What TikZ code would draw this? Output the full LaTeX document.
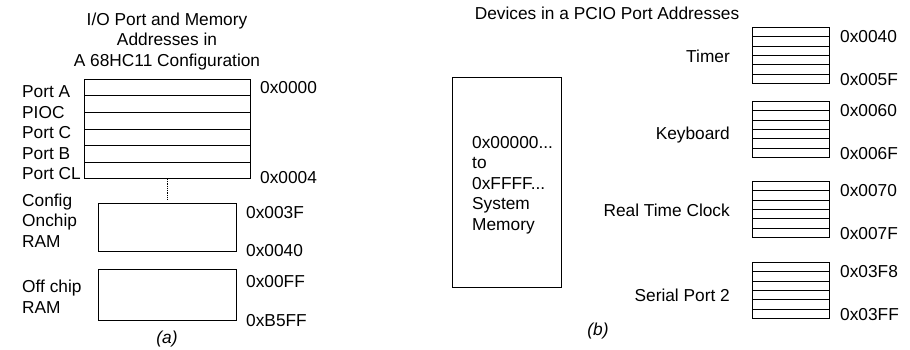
\documentclass[tikz,border=0pt]{standalone}
\usepackage{fontspec}
\setmainfont{Liberation Sans}
\usetikzlibrary{calc,positioning}
\tikzset{
  membox/.style={draw,line width=0.9pt,inner sep=0pt,anchor=north west},
  rowline/.style={line width=0.9pt},
  lbl/.style={inner sep=0pt,font=\fontsize{17.3}{20.4}\selectfont},
}
\newcommand{\RowLines}[1]{%
  \foreach \k in {1,...,5}{%
    \draw[rowline] ($(#1.north west)!\k/6!(#1.south west)$) -- ($(#1.north east)!\k/6!(#1.south east)$);}}

\begin{document}
\begin{tikzpicture}[x=1pt,y=-1pt]
\useasboundingbox (0,0) rectangle (910,349);
\node[lbl,align=center,anchor=base] (titlea) at (167,66) {I/O Port and Memory\\Addresses in\\A 68HC11 Configuration};
\node[membox,minimum width=166,minimum height=99] (ports) at (84,79) {};
\RowLines{ports}
\foreach \t [count=\i] in {Port A,PIOC,Port C,Port B,Port CL}
  \node[lbl,anchor=base west] (port\i) at (22,{97.5+20.6*(\i-1)}) {\t};
\node[lbl,anchor=base west] (hex0000) at (260,93) {0x0000};
\node[lbl,anchor=base west] (hex0004) at (260,183) {0x0004};
\node[membox,minimum width=138,minimum height=48] (onchip) at (98,203) {};
\node[membox,minimum width=138,minimum height=51] (offchip) at (98,269) {};
\draw[densely dotted,line width=0.8pt,shorten >=4pt] (ports.south) -- (onchip.north);
\node[lbl,align=left,anchor=base west] (onchipname) at (22,247) {Config\\Onchip\\RAM};
\node[lbl,align=left,anchor=base west] (offchipname) at (22,313) {Off chip\\RAM};
\node[lbl,anchor=base west] (hex003F) at (246,218) {0x003F};
\node[lbl,anchor=base west] (hex0040a) at (246,256) {0x0040};
\node[lbl,anchor=base west] (hex00FF) at (246,287) {0x00FF};
\node[lbl,anchor=base west] (hexB5FF) at (246,326) {0xB5FF};
\node[lbl,anchor=base] (capa) at (167,343) {\itshape(a)};

\node[lbl,anchor=base] (titleb) at (607,19) {Devices in a PCIO Port Addresses};
\node[membox,minimum width=109,minimum height=210] (sysmem) at (452,77) {};
\node[lbl,align=left,anchor=base west] (sysmemtext) at (472,230) {0x00000...\\to\\0xFFFF...\\System\\Memory};
\foreach \dev/\ytop/\ylab/\txt/\lo/\hi in {timer/27/62/Timer/0x0040/0x005F,
    kbd/101/139/Keyboard/0x0060/0x006F,
    rtc/181/216/Real Time Clock/0x0070/0x007F,
    sertwo/262/301/Serial Port 2/0x03F8/0x03FF}{
  \node[membox,minimum width=77,minimum height=56] (\dev) at (752,\ytop) {};
  \RowLines{\dev}
  \node[lbl,anchor=base east] (\dev-name) at (730,\ylab) {\txt};
  \node[lbl,anchor=base west] (\dev-lo) at (840,\ytop+15.5) {\lo};
  \node[lbl,anchor=base west] (\dev-hi) at (840,\ytop+58.5) {\hi};
}
\node[lbl,anchor=base] (capb) at (598,335) {\itshape(b)};
\end{tikzpicture}
\end{document}
